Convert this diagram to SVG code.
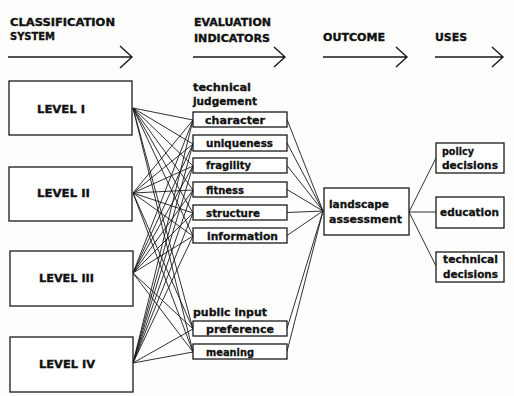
<svg xmlns="http://www.w3.org/2000/svg" width="514" height="396" viewBox="0 0 514 396">
<style>
.bg{fill:#fdfdfc}
.box{fill:#ffffff;stroke:#1a1a1a;stroke-width:1.3}
.hd{font-family:"DejaVu Sans","Liberation Sans",sans-serif;font-weight:bold;font-size:10.5px;fill:#111;stroke:#111;stroke-width:0.35}
.lv{font-family:"DejaVu Sans","Liberation Sans",sans-serif;font-weight:bold;font-size:10.5px;fill:#111;stroke:#111;stroke-width:0.35}
.t{font-family:"DejaVu Sans","Liberation Sans",sans-serif;font-weight:bold;font-size:11px;fill:#111;stroke:#111;stroke-width:0.3}
.ln{stroke:#1a1a1a;stroke-width:0.9;fill:none}
.ar{stroke:#1a1a1a;stroke-width:1.4;fill:none}
</style>
<rect class="bg" x="0" y="0" width="514" height="396"/>
<g id="headers">
<text class="hd" x="10" y="26" textLength="105" lengthAdjust="spacingAndGlyphs">CLASSIFICATION</text>
<text class="hd" x="10" y="40" textLength="45" lengthAdjust="spacingAndGlyphs">SYSTEM</text>
<text class="hd" x="194" y="26" textLength="77" lengthAdjust="spacingAndGlyphs">EVALUATION</text>
<text class="hd" x="194" y="42" textLength="76" lengthAdjust="spacingAndGlyphs">INDICATORS</text>
<text class="hd" x="323" y="41" textLength="62" lengthAdjust="spacingAndGlyphs">OUTCOME</text>
<text class="hd" x="435" y="41" textLength="32" lengthAdjust="spacingAndGlyphs">USES</text>
<path class="ar" d="M8 57 H132 M120 46 L132 57 L120 68"/>
<path class="ar" d="M193 57 H285 M274 47 L285 57 L274 67"/>
<path class="ar" d="M323 57 H407 M396 47 L407 57 L396 67"/>
<path class="ar" d="M435 57 H503 M492 47 L503 57 L492 67"/>
</g>
<g id="connectors">
<path class="ln" d="M133 108 L193 120 M133 108 L193 144 M133 108 L193 166 M133 108 L193 190 M133 108 L193 213 M133 108 L193 236 M133 108 L193 329 M133 108 L193 352"/>
<path class="ln" d="M133 193 L193 120 M133 193 L193 144 M133 193 L193 166 M133 193 L193 190 M133 193 L193 213 M133 193 L193 236 M133 193 L193 329 M133 193 L193 352"/>
<path class="ln" d="M133 273 L193 120 M133 273 L193 144 M133 273 L193 166 M133 273 L193 190 M133 273 L193 213 M133 273 L193 236 M133 273 L193 329 M133 273 L193 352"/>
<path class="ln" d="M133 363 L193 120 M133 363 L193 144 M133 363 L193 166 M133 363 L193 190 M133 363 L193 213 M133 363 L193 236 M133 363 L193 329 M133 363 L193 352"/>
<path class="ln" d="M287 119.5 L323 211 M287 143 L323 211 M287 165.5 L323 211 M287 189.5 L323 211 M287 212.5 L323 211 M287 235.5 L323 211 M287 328.5 L323 211 M287 351.5 L323 211"/>
<path class="ln" d="M409 212 L436 158 M409 212 L436 212 M409 212 L436 266"/>
</g>
<g id="level1"><rect class="box" x="9" y="81" width="123" height="54"/><text class="lv" x="37" y="113" textLength="48" lengthAdjust="spacingAndGlyphs">LEVEL I</text></g>
<g id="level2"><rect class="box" x="9" y="167" width="123" height="54"/><text class="lv" x="37" y="197" textLength="53" lengthAdjust="spacingAndGlyphs">LEVEL II</text></g>
<g id="level3"><rect class="box" x="10" y="251" width="123" height="55"/><text class="lv" x="39" y="282" textLength="55" lengthAdjust="spacingAndGlyphs">LEVEL III</text></g>
<g id="level4"><rect class="box" x="10" y="337" width="123" height="55"/><text class="lv" x="39" y="368" textLength="56" lengthAdjust="spacingAndGlyphs">LEVEL IV</text></g>
<g id="technical-judgement"><text class="t" x="193" y="91" textLength="58" lengthAdjust="spacingAndGlyphs">technical</text><text class="t" x="193" y="105" textLength="64" lengthAdjust="spacingAndGlyphs">judgement</text></g>
<g id="character"><rect class="box" x="193" y="112" width="94" height="15"/><text class="t" x="205" y="123.5" textLength="60" lengthAdjust="spacingAndGlyphs">character</text></g>
<g id="uniqueness"><rect class="box" x="193" y="135" width="94" height="16"/><text class="t" x="206" y="146.5" textLength="67" lengthAdjust="spacingAndGlyphs">uniqueness</text></g>
<g id="fragility"><rect class="box" x="193" y="158" width="94" height="15"/><text class="t" x="206" y="169" textLength="45" lengthAdjust="spacingAndGlyphs">fragility</text></g>
<g id="fitness"><rect class="box" x="193" y="182" width="94" height="15"/><text class="t" x="206" y="193.5" textLength="38" lengthAdjust="spacingAndGlyphs">fitness</text></g>
<g id="structure"><rect class="box" x="193" y="205" width="94" height="15"/><text class="t" x="206" y="216.5" textLength="54" lengthAdjust="spacingAndGlyphs">structure</text></g>
<g id="information"><rect class="box" x="193" y="228" width="94" height="15"/><text class="t" x="207" y="239.5" textLength="71" lengthAdjust="spacingAndGlyphs">information</text></g>
<g id="public-input"><text class="t" x="193" y="316" textLength="74" lengthAdjust="spacingAndGlyphs">public input</text></g>
<g id="preference"><rect class="box" x="193" y="321" width="94" height="15"/><text class="t" x="206" y="332.5" textLength="68" lengthAdjust="spacingAndGlyphs">preference</text></g>
<g id="meaning"><rect class="box" x="193" y="344" width="94" height="15"/><text class="t" x="206" y="355.5" textLength="48" lengthAdjust="spacingAndGlyphs">meaning</text></g>
<g id="landscape-assessment"><rect class="box" x="324" y="188" width="85" height="47"/><text class="t" x="329" y="208" textLength="60" lengthAdjust="spacingAndGlyphs">landscape</text><text class="t" x="329" y="223" textLength="73" lengthAdjust="spacingAndGlyphs">assessment</text></g>
<g id="policy-decisions"><rect class="box" x="436" y="143" width="68" height="30"/><text class="t" x="442" y="155" textLength="32" lengthAdjust="spacingAndGlyphs">policy</text><text class="t" x="442" y="169" textLength="56" lengthAdjust="spacingAndGlyphs">decisions</text></g>
<g id="education"><rect class="box" x="436" y="197" width="68" height="31"/><text class="t" x="440" y="216" textLength="59" lengthAdjust="spacingAndGlyphs">education</text></g>
<g id="technical-decisions"><rect class="box" x="436" y="252" width="68" height="30"/><text class="t" x="443" y="263" textLength="55" lengthAdjust="spacingAndGlyphs">technical</text><text class="t" x="443" y="278" textLength="55" lengthAdjust="spacingAndGlyphs">decisions</text></g>
</svg>
